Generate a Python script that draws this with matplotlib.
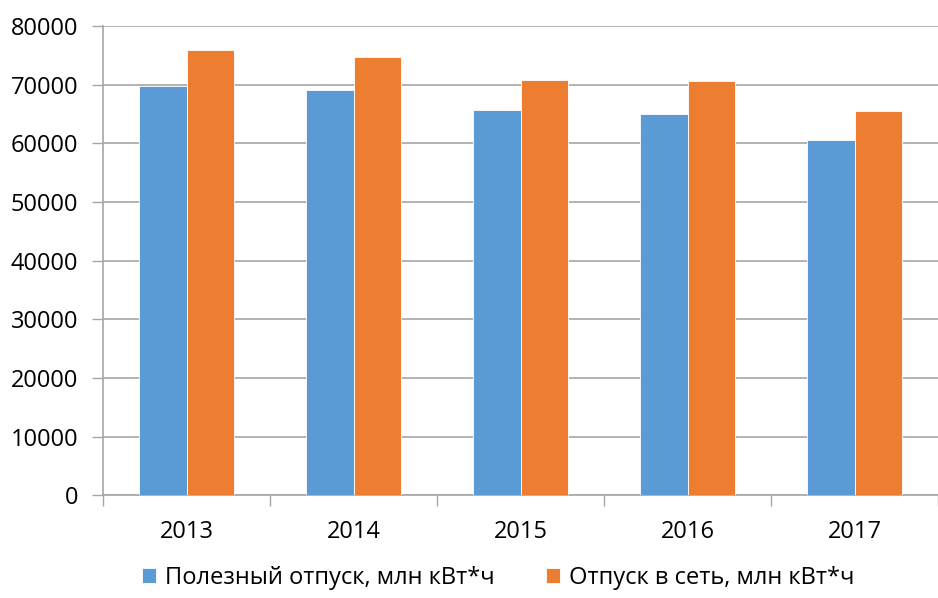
import numpy as np
import matplotlib.pyplot as plt

# ------------------ DATOS ------------------
anios = ["2013", "2014", "2015", "2016", "2017"]
polezny = [69800, 69100, 65700, 65000, 60500]
otpusk_set = [75850, 74750, 70850, 70700, 65500]
nombres = ["Полезный отпуск, млн кВт*ч", "Отпуск в сеть, млн кВт*ч"]

plt.rcParams['font.family'] = ['Open Sans', 'DejaVu Sans']

# ------------------ GRAFICADO ------------------
fig = plt.figure(figsize=(9.38, 5.98), dpi=100)
ax = fig.add_axes([0.110, 0.172, 0.890, 0.7845])

x = np.arange(len(anios))
ancho = 0.285
ax.bar(x - ancho / 2, polezny, ancho, color='#5B9BD5', edgecolor='white',
       linewidth=0.6, label=nombres[0], zorder=3)
ax.bar(x + ancho / 2, otpusk_set, ancho, color='#ED7D31', edgecolor='white',
       linewidth=0.6, label=nombres[1], zorder=3)

ax.set_ylim(0, 80000)
ax.set_xlim(-0.5, 4.36)
ax.set_yticks(np.arange(0, 80001, 10000))
ax.yaxis.grid(True, color='#A6A6A6', linewidth=1.2, zorder=0)

# marcas entre categorías, etiquetas en el centro
ax.set_xticks(np.arange(-0.5, 5, 1))
ax.set_xticklabels([])
ax.set_xticks(x, minor=True)
ax.set_xticklabels(anios, minor=True)
ax.tick_params(axis='x', which='major', length=8, color='#A6A6A6', width=1)
ax.tick_params(axis='x', which='minor', length=0, pad=18, labelsize=17)
ax.tick_params(axis='y', length=8, color='#A6A6A6', width=1, pad=10, labelsize=17)

for lado in ['top', 'right']:
    ax.spines[lado].set_visible(False)
for lado in ['left', 'bottom']:
    ax.spines[lado].set_color('#A6A6A6')
    ax.spines[lado].set_linewidth(1.2)

fig.legend(loc='center', bbox_to_anchor=(498 / 938, 20 / 598), ncol=2,
           frameon=False, fontsize=17, handlelength=0.6, handleheight=0.6,
           handletextpad=0.35, columnspacing=2.2)

fig.savefig("out.png", dpi=100)
